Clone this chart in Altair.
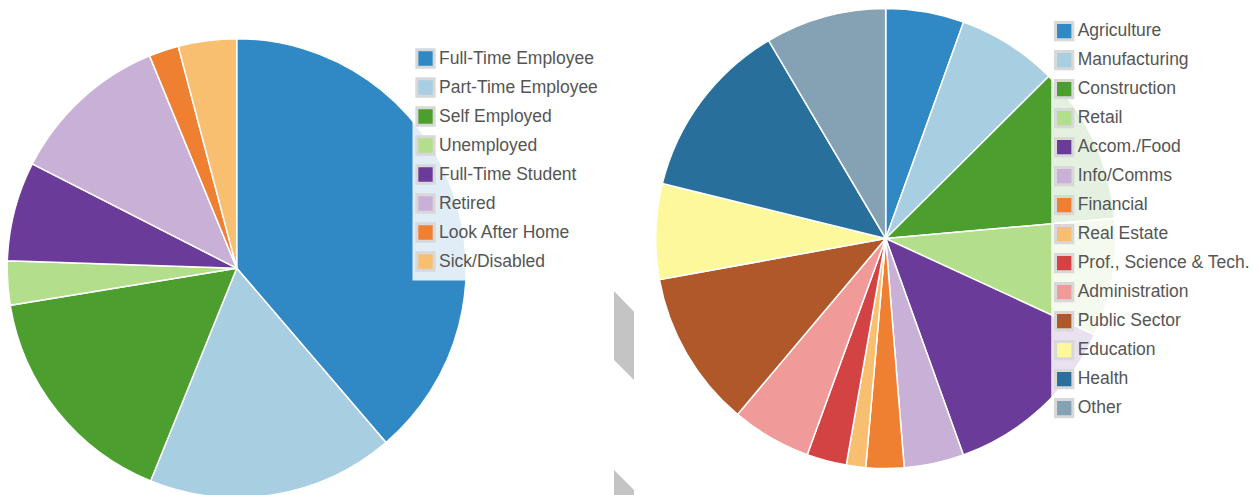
import altair as alt
import pandas as pd

# ---- data ----
status_labels = ["Full-Time Employee", "Part-Time Employee", "Self Employed", "Unemployed",
                 "Full-Time Student", "Retired", "Look After Home", "Sick/Disabled"]
status_values = [38.75, 17.4, 16.3, 3.1, 7.0, 11.3, 2.1, 4.1]
status_colors = ["#3089c4", "#a8cee2", "#4c9f2e", "#b3de8b",
                 "#6a3b98", "#c9b0d6", "#ef7f31", "#f7bf6f"]

industry_labels = ["Agriculture", "Manufacturing", "Construction", "Retail", "Accom./Food",
                   "Info/Comms", "Financial", "Real Estate", "Prof., Science & Tech.",
                   "Administration", "Public Sector", "Education", "Health", "Other"]
industry_values = [5.5, 7.05, 11.06, 8.28, 12.64, 4.2, 2.67, 1.36, 2.8, 5.6, 11.0, 6.7, 12.67, 8.5]
industry_colors = ["#3089c4", "#a8cee2", "#4c9f2e", "#b3de8b", "#6a3b98", "#c9b0d6", "#ef7f31",
                   "#f7bf6f", "#d34343", "#f09a9a", "#b05829", "#fdf89b", "#286f9b", "#85a2b4"]

# grey decoration shapes between the two pies (chart pixel space)
deco_shape = ["a", "a", "b", "b"]
deco_x = [606, 626, 606, 626]
deco_top = [283, 303.7, 462, 482]
deco_bottom = [352, 372, 490, 490]

W, H = 1242, 487

df1 = pd.DataFrame({"label": status_labels, "value": status_values,
                    "idx": list(range(len(status_labels)))})
df2 = pd.DataFrame({"label": industry_labels, "value": industry_values,
                    "idx": list(range(len(industry_labels)))})
df3 = pd.DataFrame({"shape": deco_shape, "x": deco_x, "y": deco_top, "y2": deco_bottom})

FONT = "Liberation Sans"


def legend(x, y):
    return alt.Legend(
        title=None, orient="none", legendX=x, legendY=y,
        symbolType="square", symbolSize=300, symbolStrokeColor="#d8d8d8",
        symbolStrokeWidth=3, symbolOpacity=1,
        labelFont=FONT, labelFontSize=17.5, labelColor="#555555",
        labelOffset=3, rowPadding=-2, padding=3,
        fillColor="rgba(255,255,255,0.85)", strokeColor="rgba(255,255,255,0)",
        labelLimit=300,
    )


pie1 = alt.Chart(df1).mark_arc(radius=229.5, stroke="white", strokeWidth=1.5).encode(
    theta=alt.Theta("value:Q", stack=True),
    order=alt.Order("idx:Q"),
    color=alt.Color("label:N", sort=status_labels,
                    scale=alt.Scale(domain=status_labels, range=status_colors),
                    legend=legend(404, 37)),
    x=alt.value(228.7), y=alt.value(260.2),
)

pie2 = alt.Chart(df2).mark_arc(radius=230, stroke="white", strokeWidth=1.5).encode(
    theta=alt.Theta("value:Q", stack=True),
    order=alt.Order("idx:Q"),
    color=alt.Color("label:N", sort=industry_labels,
                    scale=alt.Scale(domain=industry_labels, range=industry_colors),
                    legend=legend(1042.7, 9.7)),
    x=alt.value(877.7), y=alt.value(230.5),
)

deco = alt.Chart(df3).mark_area(color="#c4c4c4").encode(
    x=alt.X("x:Q", scale=alt.Scale(domain=[0, W], range=[0, W], zero=False, nice=False), axis=None),
    y=alt.Y("y:Q", scale=alt.Scale(domain=[0, H], range=[0, H], zero=False, nice=False), axis=None),
    y2="y2:Q",
    detail="shape:N",
)

chart = alt.layer(deco, pie1, pie2).resolve_scale(
    color="independent", theta="independent"
).properties(
    width=W, height=H, padding=0, background="white",
    autosize=alt.AutoSizeParams(type="none"),
).configure_view(stroke=None)

chart.save("out.html", embed_options={"renderer": "svg", "actions": False})
